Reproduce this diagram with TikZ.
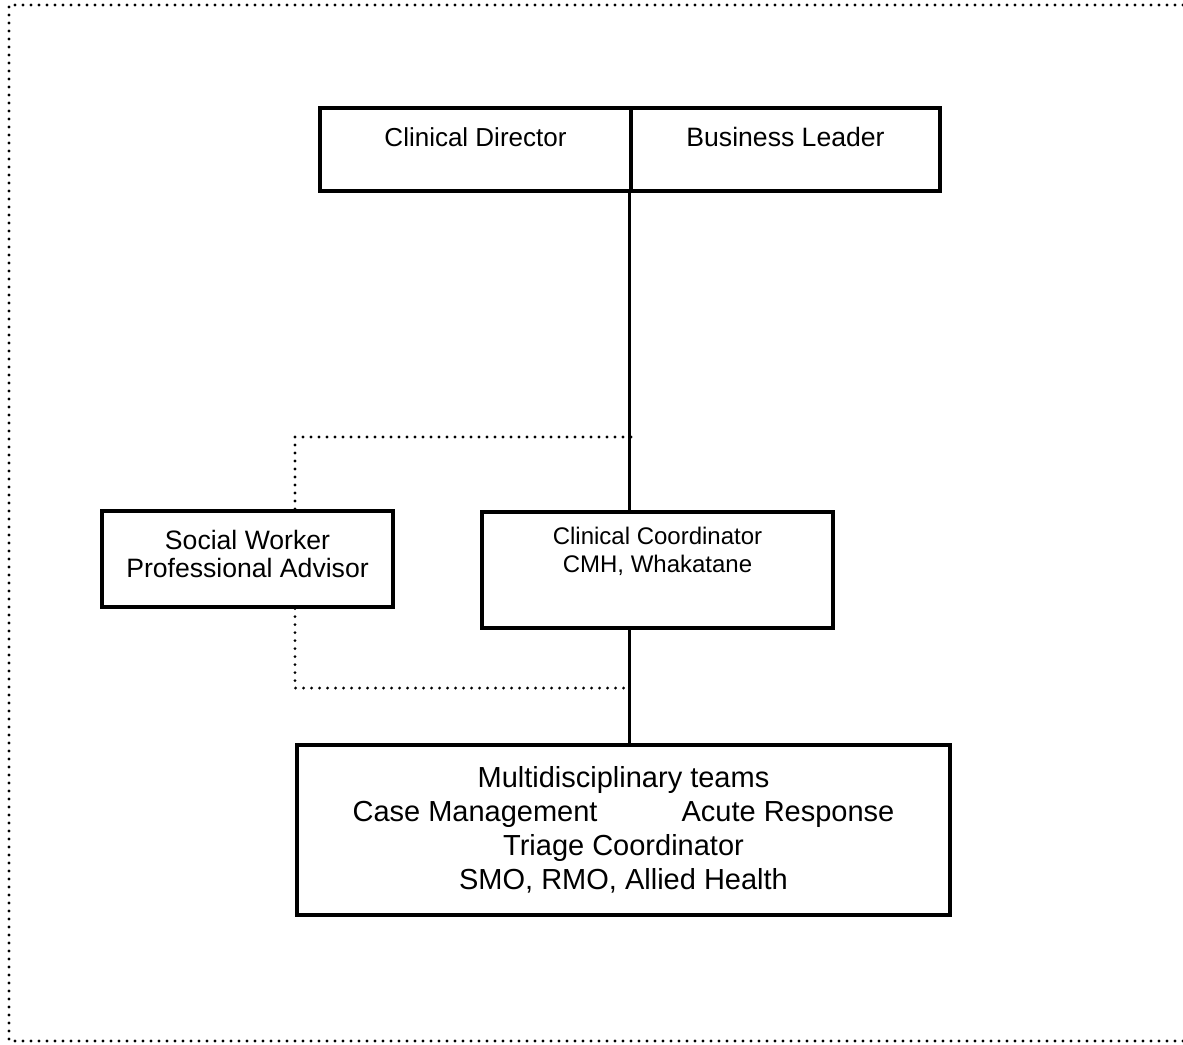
\documentclass[tikz,border=0pt]{standalone}
\usepackage{fontspec}
\setmainfont{Liberation Sans}
\usetikzlibrary{positioning}

\begin{document}
\begin{tikzpicture}[x=0.5pt,y=-0.5pt,
    box/.style={draw,line width=1.6pt,inner sep=0pt},
    dotline/.style={line width=1.6pt,line cap=round,dash pattern=on 0pt off 4pt},
    solidline/.style={line width=1.5pt}]
    \useasboundingbox (0,0) rectangle (1183,1044);
    % outer frame
    \draw[dotline] (1183,5) -- (9,5) -- (9,1041) -- (1183,1041);
    % top row
    \node[box,minimum width=155.5pt,minimum height=41.5pt] (cd) at (475.5,149.5) {};
    \node[box,minimum width=154.5pt,minimum height=41.5pt] (bl) at (785.5,149.5) {};
    \node[font=\fontsize{13}{15}\selectfont] (cdtext) at (475.5,137) {Clinical Director};
    \node[font=\fontsize{13.3}{15}\selectfont] (bltext) at (785.5,137) {Business Leader};
    % middle row
    \node[box,minimum width=145.5pt,minimum height=48pt] (swpa) at (247.5,559) {};
    \node[align=center,font=\fontsize{13.3}{14}\selectfont] (swtext) at (247.5,554)
          {Social Worker\\Professional Advisor};
    \node[box,minimum width=175.5pt,minimum height=58pt] (cc) at (657.5,570) {};
    \node[align=center,font=\fontsize{12}{14}\selectfont] (cctext) at (657.5,551)
          {Clinical Coordinator\\CMH, Whakatane};
    % bottom
    \node[box,minimum width=326.5pt,minimum height=85pt,align=center,
          font=\fontsize{14.5}{17}\selectfont] (mdt) at (623.5,830)
          {Multidisciplinary teams\\Case Management\hspace{42pt}Acute Response\\
           Triage Coordinator\\SMO, RMO, Allied Health};
    % lines
    \coordinate (tap1) at (631,437);
    \coordinate (tap2) at (631,688);
    \draw[solidline] (bl.south west) -- (bl.south west |- cc.north);
    \draw[solidline] (cc.south -| bl.south west) -- (mdt.north -| bl.south west);
    \draw[dotline] (tap1) -| ([xshift=23.75pt]swpa.north);
    \draw[dotline] ([xshift=23.75pt]swpa.south) |- ([xshift=-2.5pt]tap2);
\end{tikzpicture}
\end{document}
